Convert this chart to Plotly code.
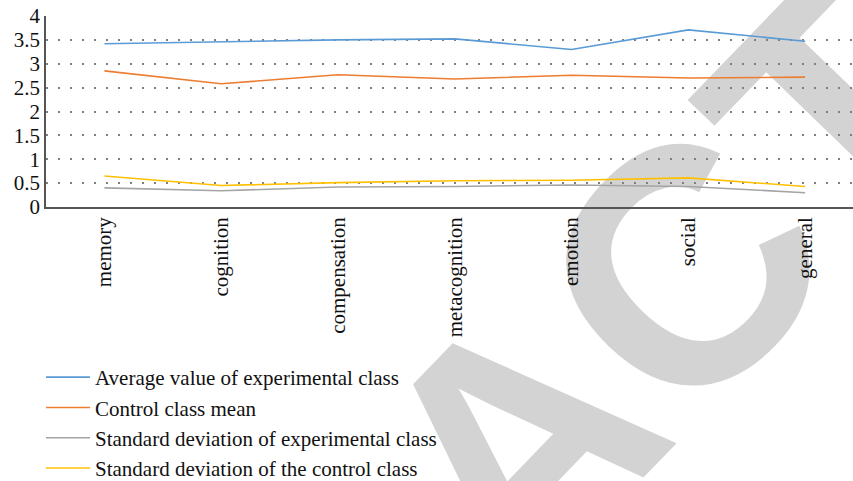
import plotly.graph_objects as go

# Learning-strategy dimensions
categories = ["memory", "cognition", "compensation", "metacognition", "emotion", "social", "general"]

exp_mean = [3.42, 3.46, 3.50, 3.52, 3.30, 3.71, 3.47]
ctrl_mean = [2.85, 2.58, 2.77, 2.68, 2.76, 2.70, 2.72]
exp_sd = [0.40, 0.34, 0.42, 0.43, 0.46, 0.43, 0.30]
ctrl_sd = [0.65, 0.45, 0.51, 0.55, 0.56, 0.61, 0.43]

series_names = [
    "Average value of experimental class",
    "Control class mean",
    "Standard deviation of experimental class",
    "Standard deviation of the control class",
]
series_values = [exp_mean, ctrl_mean, exp_sd, ctrl_sd]
series_colors = ["#5b9bd5", "#ed7d31", "#a5a5a5", "#ffc000"]

y_ticks = [0, 0.5, 1, 1.5, 2, 2.5, 3, 3.5, 4]
y_ticklabels = ["0", "0.5", "1", "1.5", "2", "2.5", "3", "3.5", "4"]

serif = "Liberation Serif, Times New Roman, serif"

fig = go.Figure()
for name, vals, col in zip(series_names, series_values, series_colors):
    fig.add_trace(go.Scatter(
        x=categories, y=vals, name=name, mode="lines",
        line=dict(color=col, width=1.6),
    ))

# Large diagonal watermark behind the plot
fig.add_shape(
    type="rect", xref="paper", yref="paper",
    x0=0.540, x1=0.566, y0=-1.133, y1=-1.108,
    line=dict(width=0), fillcolor="rgba(0,0,0,0)", layer="below",
    label=dict(
        text="<b>RETRACTED</b>", textposition="middle center", textangle=-46,
        font=dict(family="Liberation Sans Narrow, Arial Narrow, sans-serif",
                  size=335, color="#d3d3d3"),
    ),
)

fig.update_layout(
    width=853, height=481,
    margin=dict(l=46, r=0, t=16, b=274, autoexpand=False),
    paper_bgcolor="white", plot_bgcolor="rgba(0,0,0,0)",
    font=dict(family=serif, size=21, color="#111111"),
    showlegend=True,
    legend=dict(
        orientation="v", x=41 / 853, xref="container", xanchor="left",
        y=1 - 357 / 481, yref="container", yanchor="top",
        font=dict(family=serif, size=21, color="#111111"),
        bgcolor="rgba(0,0,0,0)", itemwidth=44, tracegroupgap=0,
    ),
    xaxis=dict(
        type="category", range=[-0.5, 6.41], tickangle=-90,
        showgrid=False, showline=True, linecolor="#555555", linewidth=1.5,
        ticks="", tickfont=dict(family=serif, size=21, color="#111111"),
        fixedrange=True, automargin=False,
    ),
    yaxis=dict(
        range=[0, 4], tickvals=y_ticks, ticktext=y_ticklabels,
        showgrid=True, gridcolor="#7f7f7f", gridwidth=1.5, griddash="2px,10px",
        showline=True, linecolor="#555555", linewidth=1.5, zeroline=False,
        ticks="", tickfont=dict(family=serif, size=21, color="#111111"),
        fixedrange=True, automargin=False,
    ),
)

fig.write_html("out.html")
